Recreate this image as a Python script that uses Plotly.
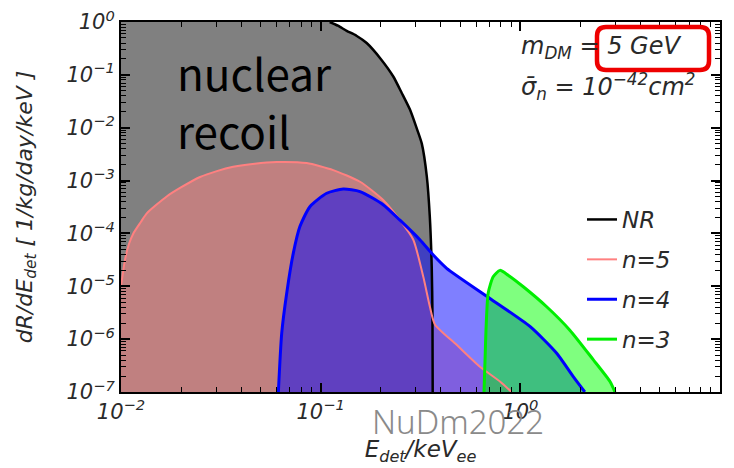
import plotly.graph_objects as go

# ---------------- data ----------------
nr_x = [0.111, 0.122, 0.135, 0.151, 0.170, 0.200, 0.231, 0.255, 0.280, 0.302, 0.321, 0.340, 0.352, 0.360, 0.363, 0.364]
nr_y = [1.0, 0.85, 0.68, 0.55, 0.40, 0.20, 0.093, 0.045, 0.022, 0.010, 5.0e-3, 1.2e-3, 2.1e-4, 2.3e-5, 3.0e-6, 1e-7]

n5_x = [0.0100, 0.01047, 0.01096, 0.01153, 0.01259, 0.01346, 0.01694, 0.01995, 0.02489, 0.0302,
        0.03648, 0.04677, 0.0603, 0.0851, 0.1156, 0.1574, 0.2056, 0.2495, 0.291, 0.3266,
        0.3524, 0.3733, 0.4797, 0.628, 0.7907, 0.9036]
n5_y = [1.0e-5, 3.16e-5, 6.3e-5, 1.0e-4, 1.66e-4, 2.4e-4, 5.0e-4, 7.4e-4, 1.17e-3, 1.51e-3,
        1.82e-3, 2.09e-3, 2.24e-3, 2.14e-3, 1.58e-3, 9.5e-4, 4.3e-4, 1.78e-4, 7.6e-5, 1.51e-5,
        4.1e-6, 1.9e-6, 7.8e-7, 3.0e-7, 1.58e-7, 1.0e-7]

n4_x = [0.0614, 0.0638, 0.0676, 0.0729, 0.0787, 0.0883, 0.1072, 0.1297, 0.1574, 0.2056,
        0.2495, 0.314, 0.3664, 0.4276, 0.7047, 1.117, 1.521, 1.841, 2.104]
n4_y = [1.0e-7, 1.29e-6, 7.4e-6, 4.2e-5, 1.35e-4, 3.2e-4, 5.75e-4, 6.9e-4, 6.2e-4, 3.5e-4,
        1.78e-4, 7.6e-5, 3.9e-5, 2.19e-5, 5.9e-6, 1.74e-6, 5.4e-7, 1.95e-7, 1.0e-7]

n3_x = [0.6577, 0.6668, 0.673, 0.690, 0.7311, 0.7907, 0.8690, 1.035, 1.355, 1.770, 2.317, 2.812, 2.979]
n3_y = [1.0e-7, 5.0e-7, 1.48e-6, 7.4e-6, 1.51e-5, 2.0e-5, 1.62e-5, 9.8e-6, 4.1e-6, 1.48e-6,
        4.1e-7, 1.58e-7, 1.0e-7]

x_major = [1e-2, 1e-1, 1e0, 1e1]
x_major_text = ["10<sup>−2</sup>", "10<sup>−1</sup>", "10<sup>0</sup>", "10<sup>1</sup>"]
y_major = [1e-7, 1e-6, 1e-5, 1e-4, 1e-3, 1e-2, 1e-1, 1e0]
y_major_text = ["10<sup>−7</sup>", "10<sup>−6</sup>", "10<sup>−5</sup>", "10<sup>−4</sup>",
                "10<sup>−3</sup>", "10<sup>−2</sup>", "10<sup>−1</sup>", "10<sup>0</sup>"]

X_MIN, X_MAX = 1e-2, 1e1
Y_MIN, Y_MAX = 1e-7, 1e0

# ---------------- layout helpers ----------------
W, H = 734, 468
L, R, T, B = 121, 14, 22, 76
PW, PH = W - L - R, H - T - B


def px(x):
    return (x - L) / PW


def py(y):
    return (H - B - y) / PH


minor_x = [m * d for d in (1e-2, 1e-1, 1e0) for m in range(2, 10)]
minor_y = [m * d for d in (1e-7, 1e-6, 1e-5, 1e-4, 1e-3, 1e-2, 1e-1) for m in range(2, 10)]

FILL_BOTTOM = 1e-9
FONT = "DejaVu Sans, Liberation Sans, sans-serif"

fig = go.Figure()

# filled regions
fig.add_trace(go.Scatter(
    x=nr_x + [nr_x[-1], X_MIN, X_MIN], y=nr_y + [FILL_BOTTOM, FILL_BOTTOM, Y_MAX],
    fill="toself", fillcolor="rgb(128,128,128)", line=dict(width=0), mode="lines",
    showlegend=False, hoverinfo="skip"))


def area(xs, ys, color):
    fig.add_trace(go.Scatter(
        x=xs + [xs[-1], xs[0]], y=ys + [FILL_BOTTOM, FILL_BOTTOM],
        fill="toself", fillcolor=color, line=dict(width=0), mode="lines",
        showlegend=False, hoverinfo="skip"))


area(n5_x, n5_y, "rgba(255,128,128,0.5)")
area(n4_x, n4_y, "rgba(0,0,255,0.5)")
area(n3_x, n3_y, "rgba(0,255,0,0.5)")

# lines (legend)
series = [("NR", nr_x, nr_y, "black", 2.5),
          ("n=5", n5_x, n5_y, "#ff8080", 2),
          ("n=4", n4_x, n4_y, "#0000ff", 3),
          ("n=3", n3_x, n3_y, "#00ee00", 3)]
for i, (name, xs, ys, col, w) in enumerate(series):
    fig.add_trace(go.Scatter(x=xs, y=ys, mode="lines", name=name,
                             line=dict(color=col, width=w, shape="spline", smoothing=0.6),
                             legendgroup=str(i)))

tickfont = dict(family=FONT, size=21, color="#2a2a2a", style="italic")

fig.update_xaxes(type="log", range=[-2, 1], tickmode="array", tickvals=x_major, ticktext=x_major_text,
                 ticks="inside", ticklen=9, tickwidth=1.5, tickcolor="black",
                 showline=True, linecolor="black", linewidth=2, mirror="ticks",
                 showgrid=False, zeroline=False, tickfont=tickfont,
                 minor=dict(tickmode="array", tickvals=minor_x, ticks="inside", ticklen=5,
                            tickwidth=1, tickcolor="black", showgrid=False),
                 title=dict(text="<i>E<sub>det</sub>/keV<sub>ee</sub></i>", standoff=18,
                            font=dict(family=FONT, size=23, color="#2a2a2a")))
fig.update_yaxes(type="log", range=[-7, 0], tickmode="array", tickvals=y_major, ticktext=y_major_text,
                 ticks="inside", ticklen=9, tickwidth=1.5, tickcolor="black",
                 showline=True, linecolor="black", linewidth=2, mirror="ticks",
                 showgrid=False, zeroline=False, tickfont=tickfont,
                 minor=dict(tickmode="array", tickvals=minor_y, ticks="inside", ticklen=5,
                            tickwidth=1, tickcolor="black", showgrid=False),
                 title=dict(text="<i>dR/dE<sub>det</sub> [ 1/kg/day/keV ]</i>", standoff=28,
                            font=dict(family=FONT, size=22, color="#2a2a2a")))

ann_font = dict(family=FONT, size=24, color="#2a2a2a")
big_font = dict(family="Noto Sans CJK JP, Noto Sans, sans-serif", size=44, color="black")
annotations = [
    dict(x=px(175), y=py(72), text="nuclear", xanchor="left", yanchor="middle", font=big_font),
    dict(x=px(175), y=py(130), text="recoil", xanchor="left", yanchor="middle", font=big_font),
    dict(x=px(519), y=py(48), text="<i>m<sub>DM</sub> = 5 GeV</i>", xanchor="left", yanchor="middle",
         font=ann_font),
    dict(x=px(519), y=py(86), text="<i>σ\u0304<sub>n</sub> = 10<sup>−42</sup>cm<sup>2</sup></i>",
         xanchor="left", yanchor="middle", font=ann_font),
    dict(x=px(458), y=py(421), text="NuDm2022", xanchor="center", yanchor="middle",
         font=dict(family="Noto Sans, sans-serif", size=33, color="#8a8a8a", weight=300)),
]
for a in annotations:
    a.update(xref="paper", yref="paper", showarrow=False)

# red rounded box
bx0, bx1, by0, by1 = px(597), px(709), py(70), py(27)
rx, ry = 9 / PW, 9 / PH
path = (f"M {bx0+rx},{by1} L {bx1-rx},{by1} Q {bx1},{by1} {bx1},{by1-ry} "
        f"L {bx1},{by0+ry} Q {bx1},{by0} {bx1-rx},{by0} L {bx0+rx},{by0} "
        f"Q {bx0},{by0} {bx0},{by0+ry} L {bx0},{by1-ry} Q {bx0},{by1} {bx0+rx},{by1} Z")

fig.update_layout(
    width=W, height=H, margin=dict(l=L, r=R, t=T, b=B, autoexpand=False),
    paper_bgcolor="white", plot_bgcolor="white",
    annotations=annotations,
    shapes=[dict(type="path", path=path, xref="paper", yref="paper",
                 line=dict(color="#ee0000", width=4.5))],
    legend=dict(x=px(582), y=py(198), xanchor="left", yanchor="top",
                bgcolor="rgba(0,0,0,0)", tracegroupgap=7, itemwidth=30,
                font=dict(family=FONT, size=23, color="#2a2a2a", style="italic")),
)

fig.write_html("out.html", config={"displayModeBar": False},
               post_script="document.body.style.margin='0px';")
